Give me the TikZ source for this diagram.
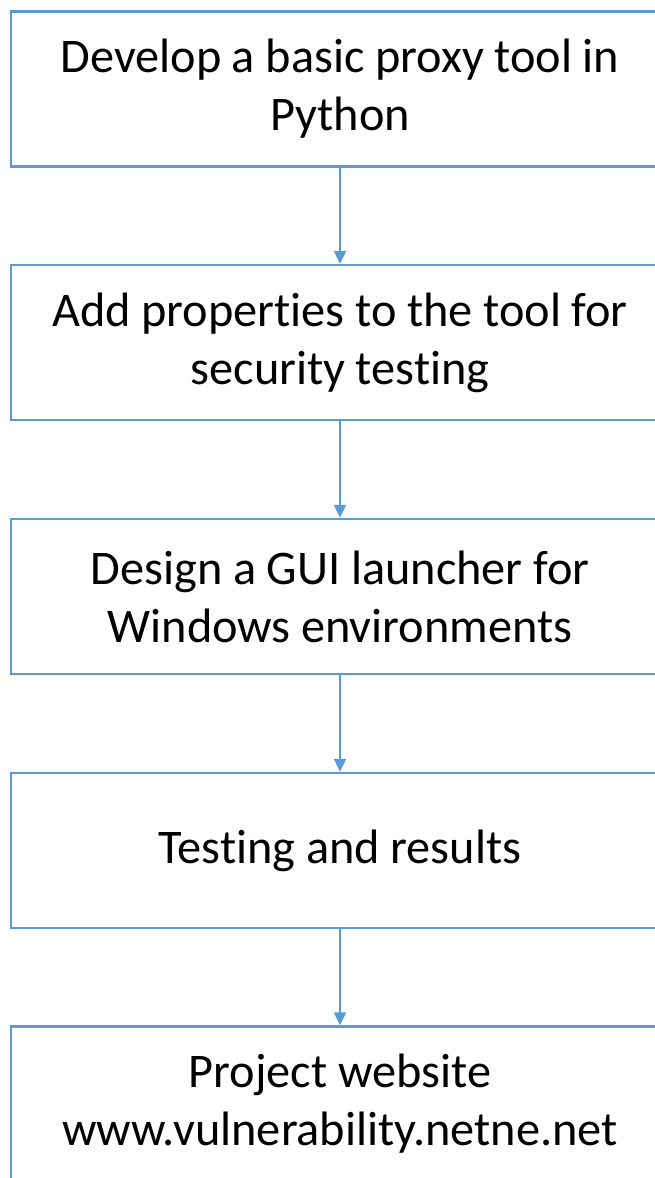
\documentclass[tikz,border=0pt]{standalone}
\usepackage{fontspec}
\setmainfont{Carlito}[RawFeature=-liga]
\usetikzlibrary{arrows.meta}
\definecolor{boxblue}{HTML}{5B9BD5}
\newcommand\tsp{\spaceskip=0.22em\relax\xspaceskip=0.22em\relax}
\begin{document}
\begin{tikzpicture}[x=1pt,y=-1pt,
  stepbox/.style={draw=boxblue,line width=2.4pt,fill=white,minimum width=658pt,minimum height=155pt,
    align=center,font=\fontsize{48.3}{58}\selectfont,inner sep=0pt,text width=640pt},
  conn/.style={draw=boxblue,line width=2.2pt,-{Triangle[length=13pt,width=12pt]}}]
\useasboundingbox (0,0) rectangle (654,1178);
\node[stepbox] (b1) at (340,89) {\tsp Develop a basic proxy tool in\\Python};
\node[stepbox] (b2) at (340,342.5) {\tsp Add properties to the tool for\\security testing};
\node[stepbox] (b3) at (340,596.5) {\tsp Design a GUI launcher for\\Windows environments};
\node[stepbox] (b4) at (340,850.5) {\tsp Testing and results};
\node[stepbox] (b5) at (340,1104) {\tsp Project website\\www.vulnerability.netne.net};
\draw[conn] (b1.south) -- (b2.north);
\draw[conn] (b2.south) -- (b3.north);
\draw[conn] (b3.south) -- (b4.north);
\draw[conn] (b4.south) -- (b5.north);
\end{tikzpicture}
\end{document}
